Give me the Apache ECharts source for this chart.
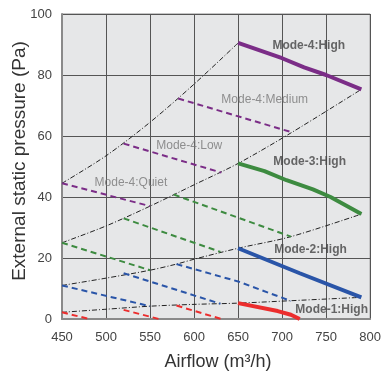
<!DOCTYPE html>
<html>
<head>
<meta charset="utf-8">
<script src="https://cdn.jsdelivr.net/npm/echarts@6/dist/echarts.min.js"></script>
<style>
html,body{margin:0;padding:0;background:#fff;}
#c{width:384px;height:374px;}
</style>
</head>
<body>
<div id="c"></div>
<script>
// Axis ticks
const xMin = 450, xMax = 800, xStep = 50;
const yMin = 0, yMax = 100, yStep = 20;

// System resistance curves (dash-dot)
const curveA = [[450,44.5],[500,53.5],[550,64.5],[600,77],[650,90.5]];
const curveB = [[450,25],[500,30.5],[550,37],[600,44],[650,51],[710,61],[790,75.3]];
const curveC = [[450,11],[500,13.4],[550,16],[580,18],[600,19.6],[650,23.2],[710,27],[790,34.4]];
const curveD = [[450,2.2],[500,3.2],[550,4.2],[600,4.8],[650,5.2],[710,6],[790,7.1]];

// Mode-4 (purple)
const m4High   = [[650,90.5],[700,85.5],[725,82.5],[750,80],[790,75.3]];
const m4Medium = [[582,72.3],[710,61.3]];
const m4Low    = [[520,57.5],[631,48]];
const m4Quiet  = [[450,44.5],[550,37]];
// Mode-3 (green)
const m3High   = [[650,51],[680,48.5],[705,45.5],[735,42.5],[755,40],[790,34.4]];
const m3Medium = [[577,40.8],[710,27]];
const m3Low    = [[520,33],[630,22]];
const m3Quiet  = [[450,25],[550,16]];
// Mode-2 (blue)
const m2High   = [[650,23.2],[720,15],[790,7.1]];
const m2Medium = [[580,18],[650,12.3],[710,5.9]];
const m2Low    = [[520,15],[630,5]];
const m2Quiet  = [[450,11],[550,4.2]];
// Mode-1 (red)
const m1High   = [[650,5.2],[695,2.6],[710,1.4],[720,0]];
const m1Medium = [[580,4.4],[631,0]];
const m1Low    = [[520,3],[560,0]];
const m1Quiet  = [[450,2.2],[481,0]];

// Annotation labels
const labelNames = ['Mode-4:High','Mode-4:Medium','Mode-4:Low','Mode-4:Quiet','Mode-3:High','Mode-2:High','Mode-1:High'];
const labelX = [689, 631, 557, 487, 690, 691, 715];
const labelY = [89.6, 71.9, 56.8, 44.7, 51.6, 22.7, 3.0];
const labelBold = [true, false, false, false, true, true, true];

const PURPLE = '#7b2d87', GREEN = '#3d8b40', BLUE = '#2a55a8', RED = '#ec2d2d';
const FONT = 'Liberation Sans, Arial, sans-serif';

function solid(data, color) {
  return {type:'line', data, symbol:'none', z:5, lineStyle:{color, width:4}, silent:true};
}
function dashed(data, color) {
  return {type:'line', data, symbol:'none', z:4, lineStyle:{color, width:2, type:[6,4]}, silent:true};
}
function dashdot(data) {
  return {type:'line', data, symbol:'none', smooth:0.3, z:3, lineStyle:{color:'#222', width:1, type:[5,2,1,2]}, silent:true};
}

const labelData = labelNames.map((n,i) => ({
  value:[labelX[i], labelY[i]],
  label:{
    show:true, position:'right', distance:0, formatter:n,
    color: labelBold[i] ? '#444' : '#777',
    fontWeight: labelBold[i] ? 'bold' : 'normal',
    fontSize: 12, fontFamily: FONT
  }
}));

const chart = echarts.init(document.getElementById('c'), null, {renderer:'canvas'});
chart.setOption({
  animation:false,
  grid:{left:62, right:10, top:14, bottom:55, show:true, backgroundColor:'#e6e7e8', borderColor:'#8a8a8a', borderWidth:1},
  xAxis:{
    type:'value', min:xMin, max:xMax, interval:xStep,
    axisLine:{show:true, lineStyle:{color:'#8a8a8a', width:2}},
    axisTick:{show:false},
    axisLabel:{color:'#444', fontSize:13, fontFamily:FONT, margin:12},
    splitLine:{show:true, lineStyle:{color:'#555', width:1}}
  },
  yAxis:{
    type:'value', min:yMin, max:yMax, interval:yStep,
    axisLine:{show:true, lineStyle:{color:'#8a8a8a', width:2}},
    axisTick:{show:false},
    axisLabel:{color:'#444', fontSize:13, fontFamily:FONT, margin:10},
    splitLine:{show:true, lineStyle:{color:'#555', width:1}}
  },
  graphic:[
    {type:'text', x:20, y:161, rotation:Math.PI/2, style:{text:'External static pressure (Pa)', font:'19px ' + FONT, fill:'#333', textAlign:'center', textVerticalAlign:'middle'}},
    {type:'text', x:218, y:362, style:{text:'Airflow (m³/h)', font:'18px ' + FONT, fill:'#333', textAlign:'center', textVerticalAlign:'middle'}}
  ],
  series:[
    dashdot(curveA), dashdot(curveB), dashdot(curveC), dashdot(curveD),
    dashed(m4Medium, PURPLE), dashed(m4Low, PURPLE), dashed(m4Quiet, PURPLE),
    dashed(m3Medium, GREEN), dashed(m3Low, GREEN), dashed(m3Quiet, GREEN),
    dashed(m2Medium, BLUE), dashed(m2Low, BLUE), dashed(m2Quiet, BLUE),
    dashed(m1Medium, RED), dashed(m1Low, RED), dashed(m1Quiet, RED),
    solid(m4High, PURPLE), solid(m3High, GREEN), solid(m2High, BLUE), solid(m1High, RED),
    {type:'scatter', symbolSize:0, z:6, silent:true, data:labelData}
  ]
});
</script>
</body>
</html>
